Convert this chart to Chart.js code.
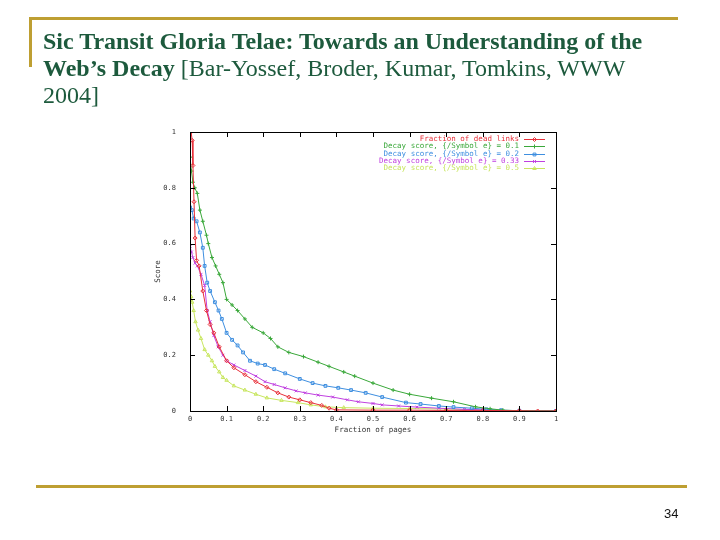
<!DOCTYPE html>
<html>
<head>
<meta charset="utf-8">
<script src="https://cdn.jsdelivr.net/npm/chart.js@4/dist/chart.umd.min.js"></script>
<style>
  html, body { margin:0; padding:0; background:#fff; }
  #wrap { position:relative; width:720px; height:540px; overflow:hidden; background:#fff; }
  #c { position:absolute; left:0; top:0; }
  .gold { position:absolute; background:#be9f32; }
  #title { position:absolute; left:43px; top:28px; width:670px; white-space:nowrap; font-family:'Liberation Serif','Times New Roman',serif; font-size:24px; line-height:27px; color:#1d5a3d; }
  #title b { font-weight:bold; }
  #pg { position:absolute; left:664px; top:506px; font-family:'Liberation Sans Narrow','Liberation Sans',Arial,sans-serif; font-size:13px; color:#111; }
</style>
</head>
<body>
<div id="wrap">
  <canvas id="c" width="720" height="540"></canvas>
  <div class="gold" style="left:29px; top:17px; width:649px; height:3px;"></div>
  <div class="gold" style="left:29px; top:17px; width:3px; height:50px;"></div>
  <div class="gold" style="left:36px; top:485px; width:651px; height:3px;"></div>
  <div id="title"><b>Sic Transit Gloria Telae: Towards an Understanding of the</b><br><b>Web’s Decay</b> [Bar-Yossef, Broder, Kumar, Tomkins, WWW<br>2004]</div>
  <div id="pg">34</div>
</div>
<script>
// ---- data ----
const xTicks = [0, 0.1, 0.2, 0.3, 0.4, 0.5, 0.6, 0.7, 0.8, 0.9, 1];
const yTicks = [0, 0.2, 0.4, 0.6, 0.8, 1];

const seriesLabels = [
  "Fraction of dead links",
  "Decay score, {/Symbol e} = 0.1",
  "Decay score, {/Symbol e} = 0.2",
  "Decay score, {/Symbol e} = 0.33",
  "Decay score, {/Symbol e} = 0.5"
];

const deadX = [0.003, 0.006, 0.008, 0.011, 0.014, 0.018, 0.025, 0.035, 0.045, 0.055, 0.065, 0.08, 0.1, 0.12, 0.15, 0.18, 0.21, 0.24, 0.27, 0.3, 0.33, 0.36, 0.38, 0.4, 0.5, 0.6, 0.7, 0.8, 0.9, 0.95, 1.0];
const deadY = [1.0, 0.97, 0.88, 0.75, 0.62, 0.54, 0.52, 0.43, 0.36, 0.31, 0.28, 0.23, 0.18, 0.155, 0.13, 0.105, 0.085, 0.065, 0.05, 0.04, 0.03, 0.02, 0.01, 0.004, 0.003, 0.003, 0.002, 0.002, 0.001, 0, 0];

const e01X = [0, 0.004, 0.008, 0.013, 0.02, 0.027, 0.035, 0.045, 0.05, 0.06, 0.07, 0.08, 0.09, 0.1, 0.115, 0.13, 0.15, 0.17, 0.2, 0.22, 0.24, 0.27, 0.31, 0.35, 0.38, 0.42, 0.45, 0.5, 0.555, 0.6, 0.66, 0.72, 0.78, 0.82, 0.855, 0.9, 1.0];
const e01Y = [0.91, 0.86, 0.82, 0.80, 0.78, 0.72, 0.68, 0.63, 0.60, 0.55, 0.52, 0.49, 0.46, 0.40, 0.38, 0.36, 0.33, 0.30, 0.28, 0.26, 0.23, 0.21, 0.195, 0.175, 0.16, 0.14, 0.125, 0.10, 0.075, 0.06, 0.046, 0.033, 0.015, 0.008, 0.003, 0.001, 0];

const e02X = [0, 0.005, 0.01, 0.018, 0.027, 0.035, 0.04, 0.047, 0.055, 0.068, 0.078, 0.087, 0.1, 0.115, 0.13, 0.145, 0.164, 0.185, 0.205, 0.23, 0.26, 0.3, 0.335, 0.37, 0.405, 0.44, 0.48, 0.525, 0.59, 0.63, 0.68, 0.72, 0.77, 0.81, 0.85, 0.9, 1.0];
const e02Y = [0.73, 0.72, 0.69, 0.68, 0.64, 0.585, 0.52, 0.46, 0.43, 0.39, 0.36, 0.33, 0.28, 0.255, 0.235, 0.21, 0.18, 0.17, 0.165, 0.15, 0.135, 0.115, 0.10, 0.09, 0.083, 0.075, 0.065, 0.05, 0.03, 0.025, 0.018, 0.014, 0.01, 0.006, 0.003, 0.001, 0];

const e033X = [0, 0.004, 0.008, 0.014, 0.02, 0.03, 0.04, 0.047, 0.055, 0.065, 0.077, 0.09, 0.1, 0.12, 0.15, 0.18, 0.205, 0.23, 0.26, 0.29, 0.315, 0.35, 0.39, 0.43, 0.46, 0.5, 0.525, 0.57, 0.62, 0.68, 0.75, 0.8, 0.85, 0.9, 1.0];
const e033Y = [0.59, 0.57, 0.55, 0.53, 0.52, 0.49, 0.45, 0.36, 0.32, 0.27, 0.23, 0.20, 0.18, 0.165, 0.145, 0.125, 0.105, 0.095, 0.083, 0.072, 0.065, 0.057, 0.05, 0.04, 0.033, 0.027, 0.022, 0.018, 0.014, 0.01, 0.006, 0.004, 0.002, 0.001, 0];

const e05X = [0, 0.003, 0.006, 0.01, 0.015, 0.022, 0.03, 0.04, 0.05, 0.06, 0.068, 0.08, 0.09, 0.1, 0.12, 0.15, 0.18, 0.21, 0.25, 0.295, 0.33, 0.37, 0.42, 0.5, 0.6, 0.7, 0.75, 0.8, 0.9, 1.0];
const e05Y = [0.43, 0.41, 0.39, 0.36, 0.32, 0.29, 0.26, 0.22, 0.20, 0.18, 0.16, 0.14, 0.12, 0.11, 0.09, 0.075, 0.06, 0.047, 0.038, 0.03, 0.022, 0.015, 0.012, 0.01, 0.009, 0.007, 0.005, 0.003, 0.001, 0];

const seriesX = [deadX, e01X, e02X, e033X, e05X];
const seriesY = [deadY, e01Y, e02Y, e033Y, e05Y];
const colors = ['#e8303a', '#3aa83a', '#3f8fe0', '#c040e0', '#c8e660'];
const styles = ['rectRot', 'cross', 'rect', 'crossRot', 'triangle'];

const datasets = seriesLabels.map((lab, i) => ({
  label: lab,
  data: seriesX[i].map((x, j) => ({ x: x, y: seriesY[i][j] })),
  borderColor: colors[i],
  backgroundColor: colors[i],
  pointBackgroundColor: 'rgba(255,255,255,0)',
  pointBorderColor: colors[i],
  pointStyle: styles[i],
  pointRadius: 2,
  pointBorderWidth: 1,
  borderWidth: 1,
  tension: 0,
  fill: false,
  order: i
}));

const gnuFont = { family: "'DejaVu Sans Mono', monospace", size: 7 };
const fmt = v => String(+Number(v).toFixed(1));

const framePlugin = {
  id: 'frame',
  afterDatasetsDraw(chart) {
    const { ctx, chartArea: a, scales } = chart;
    ctx.save();
    ctx.strokeStyle = '#000';
    ctx.lineWidth = 1;
    ctx.strokeRect(Math.round(a.left) + 0.5, Math.round(a.top) + 0.5, Math.round(a.right - a.left), Math.round(a.bottom - a.top));
    ctx.beginPath();
    const tl = 5;
    xTicks.forEach(v => {
      const px = Math.round(scales.x.getPixelForValue(v)) + 0.5;
      ctx.moveTo(px, a.bottom); ctx.lineTo(px, a.bottom - tl);
      ctx.moveTo(px, a.top); ctx.lineTo(px, a.top + tl);
    });
    yTicks.forEach(v => {
      const py = Math.round(scales.y.getPixelForValue(v)) + 0.5;
      ctx.moveTo(a.left, py); ctx.lineTo(a.left + tl, py);
      ctx.moveTo(a.right, py); ctx.lineTo(a.right - tl, py);
    });
    ctx.stroke();

    // gnuplot-style key, top right inside the frame
    ctx.font = "7.5px 'DejaVu Sans Mono', monospace";
    ctx.textAlign = 'right';
    ctx.textBaseline = 'middle';
    chart.data.datasets.forEach((ds, i) => {
      const y = a.top + 7 + i * 7.3;
      ctx.fillStyle = ds.borderColor;
      ctx.fillText(ds.label, a.right - 37, y);
      ctx.strokeStyle = ds.borderColor;
      ctx.beginPath();
      ctx.moveTo(a.right - 32, Math.round(y) + 0.5);
      ctx.lineTo(a.right - 11, Math.round(y) + 0.5);
      ctx.stroke();
      if (Chart.helpers && Chart.helpers.drawPoint) {
        ctx.fillStyle = 'rgba(255,255,255,0)';
        Chart.helpers.drawPoint(ctx, { pointStyle: ds.pointStyle, radius: 2, borderWidth: 1, rotation: 0 }, a.right - 21.5, Math.round(y) + 0.5);
      }
    });
    ctx.restore();
  }
};

new Chart(document.getElementById('c'), {
  type: 'line',
  data: { datasets: datasets },
  options: {
    responsive: false,
    animation: false,
    devicePixelRatio: 1,
    layout: { padding: { left: 150, right: 164, top: 132, bottom: 101 } },
    plugins: { legend: { display: false }, tooltip: { enabled: false } },
    scales: {
      x: {
        type: 'linear', min: 0, max: 1,
        afterFit: s => { s.height = 28; },
        afterBuildTicks: s => { s.ticks = xTicks.map(v => ({ value: v })); },
        grid: { display: false, drawTicks: false },
        border: { display: false },
        ticks: { font: gnuFont, color: '#333', padding: 4, maxRotation: 0, callback: fmt },
        title: { display: true, text: 'Fraction of pages', font: { family: "'DejaVu Sans Mono', monospace", size: 7.5 }, color: '#333', padding: { top: 4, bottom: 4 } }
      },
      y: {
        type: 'linear', min: 0, max: 1,
        afterFit: s => { s.width = 40; },
        afterBuildTicks: s => { s.ticks = yTicks.map(v => ({ value: v })); },
        grid: { display: false, drawTicks: false },
        border: { display: false },
        ticks: { font: gnuFont, color: '#333', padding: 14, callback: fmt },
        title: { display: true, text: 'Score', font: { family: "'DejaVu Sans Mono', monospace", size: 7.5 }, color: '#333', padding: { top: 4, bottom: 4 } }
      }
    }
  },
  plugins: [framePlugin]
});
</script>
</body>
</html>
